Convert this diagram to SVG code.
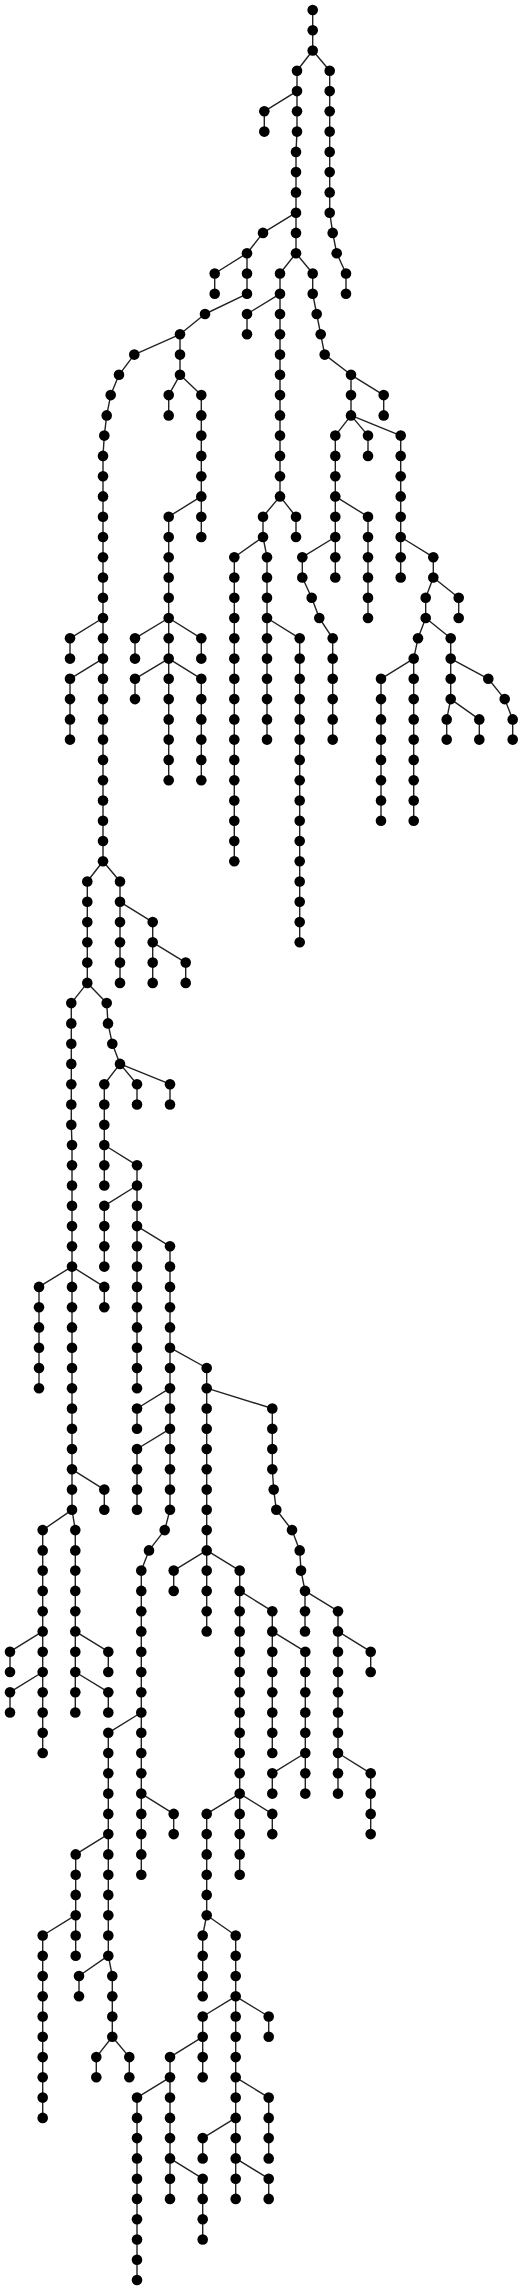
<svg xmlns="http://www.w3.org/2000/svg" width="531" height="2290" viewBox="0 0 531 2290">
<style>
.e path{fill:none;stroke:#222;stroke-width:1.4;stroke-linejoin:round}
circle{fill:#000;r:5.3px}
</style>
<rect width="531" height="2290" fill="#fff"/>
<g id="connectors" class="e">
<path d="M312.7,10 L312.7,50.5 L297,70.8 L297,131.6 L296,151.9 L296,253.2 L280,273.5 L280,496.4 L263,516.7 L263,537 L234.3,557.2 L234.3,861.3"/>
<path d="M312.7,50.5 L329.7,70.8 L329.7,212.7 L332.7,232.9 L336.7,253.2 L346,273.5 L346,293.8"/>
<path d="M297,91.1 L264.3,111.3 L264.3,131.6"/>
<path d="M296,212.7 L263,232.9 L247,253.2 L247,293.8 L205,314 L180,334.3 L180,374.8 L201.3,395.1 L201.3,537"/>
<path d="M180,374.8 L168.7,395.1 L168.7,415.4"/>
<path d="M201.3,496.4 L168.7,516.7 L168.7,780.2"/>
<path d="M168.7,618 L135,638.3 L135,658.6"/>
<path d="M168.7,618 L201.3,638.3 L201.3,658.6"/>
<path d="M168.7,658.6 L135,678.8 L135,699.1"/>
<path d="M168.7,658.6 L201.3,678.8 L201.3,780.2"/>
<path d="M247,253.2 L214.7,273.5 L214.7,293.8"/>
<path d="M280,293.8 L247,314 L247,334.3"/>
<path d="M280,496.4 L296,516.7 L296,537"/>
<path d="M263,537 L267,557.2 L267,739.6"/>
<path d="M267,618 L299.7,638.3 L299.7,942.3"/>
<path d="M296,253.2 L312.7,273.5 L312.7,293.8 L316.7,314 L320.7,334.3 L324.7,354.6 L351,374.8 L351,415.4 L400.7,435.6 L400.7,577.5"/>
<path d="M351,374.8 L383.7,395.1 L383.7,415.4"/>
<path d="M351,415.4 L335.3,435.6 L335.3,577.5"/>
<path d="M351,415.4 L368,435.6 L368,455.9"/>
<path d="M335.3,496.4 L368,516.7 L368,618"/>
<path d="M335.3,537 L302.3,557.2 L302.3,577.5 L311.7,597.8 L319.3,618 L332.7,638.3 L332.7,739.6"/>
<path d="M400.7,537 L433.3,557.2 L433.3,577.5 L425.7,597.8 L425.7,618 L418,638.3 L413.7,658.6 L413.7,820.7"/>
<path d="M433.3,577.5 L458.7,597.8 L458.7,618"/>
<path d="M425.7,618 L450.7,638.3 L450.7,699.1 L446.7,719.4 L446.7,739.6"/>
<path d="M450.7,658.6 L488.3,678.8 L504.7,699.1 L512.7,719.4 L512.7,739.6"/>
<path d="M450.7,699.1 L479.3,719.4 L479.3,739.6"/>
<path d="M413.7,658.6 L381,678.8 L381,820.7"/>
<path d="M180,334.3 L134.3,354.6 L119,374.8 L110.7,395.1 L106.7,415.4 L104.3,435.6 L103,455.9 L103,861.3 L87.3,881.5 L87.3,982.9 L71.3,1003.1 L71.3,1124.7 L72,1145 L72,1509.8 L75.3,1530.1 L75.3,1712.5"/>
<path d="M103,618 L70,638.3 L70,658.6"/>
<path d="M103,658.6 L70,678.8 L70,739.6"/>
<path d="M103,861.3 L120,881.5 L120,982.9"/>
<path d="M120,901.8 L152.7,922.1 L152.7,982.9"/>
<path d="M152.7,942.3 L185.7,962.6 L185.7,982.9"/>
<path d="M87.3,982.9 L106.7,1003.1 L108,1023.4 L112.3,1043.7 L120,1063.9 L170,1084.2 L170,1104.5"/>
<path d="M120,1063.9 L137,1084.2 L137,1104.5"/>
<path d="M120,1063.9 L104.3,1084.2 L104.3,1185.5"/>
<path d="M104.3,1145 L137,1165.3 L137,1388.2"/>
<path d="M137,1185.5 L104.3,1205.8 L104.3,1266.6"/>
<path d="M137,1226.1 L170,1246.3 L170,1509.8 L164.7,1530.1 L149,1550.4 L141.3,1570.6 L141.3,1874.7"/>
<path d="M72,1266.6 L39,1286.9 L39,1388.2"/>
<path d="M72,1266.6 L104.3,1286.9 L104.3,1307.2"/>
<path d="M170,1347.7 L206.7,1368 L206.7,1631.4"/>
<path d="M170,1388.2 L137,1408.5 L137,1428.8"/>
<path d="M170,1428.8 L137,1449 L137,1509.8"/>
<path d="M206.7,1388.2 L272.3,1408.5 L272.3,1469.3 L273.7,1489.6 L276.3,1509.8 L292,1530.1 L299.7,1550.4 L301,1570.6 L305,1590.9 L305,1631.4"/>
<path d="M305,1590.9 L338,1611.2 L338,1793.6"/>
<path d="M338,1631.4 L370.7,1651.7 L370.7,1672"/>
<path d="M338,1753 L370.7,1773.3 L370.7,1834.1"/>
<path d="M206.7,1550.4 L173.7,1570.6 L173.7,1590.9"/>
<path d="M206.7,1550.4 L239.7,1570.6 L239.7,1874.7"/>
<path d="M239.7,1590.9 L272.3,1611.2 L272.3,1753"/>
<path d="M272.3,1631.4 L305.3,1651.7 L305.3,1793.6"/>
<path d="M305.3,1753 L272.3,1773.3 L272.3,1793.6"/>
<path d="M239.7,1793.6 L206.7,1813.9 L206.7,1915.2 L202.7,1935.5 L202.7,1996.3"/>
<path d="M206.7,1915.2 L235.7,1935.5 L235.7,2198.9"/>
<path d="M235.7,1996.3 L202.7,2016.5 L202.7,2077.3"/>
<path d="M235.7,1996.3 L268.7,2016.5 L268.7,2036.8"/>
<path d="M202.7,2036.8 L170,2057.1 L170,2198.9"/>
<path d="M170,2077.3 L137,2097.6 L137,2280"/>
<path d="M170,2158.4 L202.7,2178.7 L202.7,2239.5"/>
<path d="M235.7,2077.3 L268.7,2097.6 L268.7,2158.4"/>
<path d="M235.7,2117.9 L202.7,2138.1 L202.7,2158.4"/>
<path d="M235.7,2158.4 L268.7,2178.7 L268.7,2198.9"/>
<path d="M239.7,1793.6 L272.3,1813.9 L272.3,1834.1"/>
<path d="M141.3,1793.6 L173.7,1813.9 L173.7,1834.1"/>
<path d="M141.3,1712.5 L108.3,1732.8 L108.3,1955.7 L112.3,1976 L112.3,2036.8 L129.3,2057.1 L129.3,2077.3"/>
<path d="M108.3,1834.1 L75.7,1854.4 L75.7,1955.7"/>
<path d="M75.7,1915.2 L42.7,1935.5 L42.7,2117.9"/>
<path d="M108.3,1955.7 L79,1976 L79,1996.3"/>
<path d="M112.3,2036.8 L96.3,2057.1 L96.3,2077.3"/>
<path d="M72,1509.8 L42.7,1530.1 L42.7,1753"/>
<path d="M42.7,1631.4 L10,1651.7 L10,1672"/>
<path d="M42.7,1672 L10,1692.2 L10,1712.5"/>
<path d="M75.3,1631.4 L108.3,1651.7 L108.3,1672"/>
<path d="M75.3,1672 L108.3,1692.2 L108.3,1712.5"/>
<path d="M72,1469.3 L104.3,1489.6 L104.3,1509.8"/>
</g>
<g id="nodes">
<g id="n0-0"><circle cx="312.7" cy="10"/></g>
<g id="n1-0"><circle cx="312.7" cy="30.3"/></g>
<g id="n2-0"><circle cx="312.7" cy="50.5"/></g>
<g id="n3-0"><circle cx="297" cy="70.8"/></g><g id="n3-1"><circle cx="329.7" cy="70.8"/></g>
<g id="n4-0"><circle cx="297" cy="91.1"/></g><g id="n4-1"><circle cx="329.7" cy="91.1"/></g>
<g id="n5-0"><circle cx="264.3" cy="111.3"/></g><g id="n5-1"><circle cx="297" cy="111.3"/></g><g id="n5-2"><circle cx="329.7" cy="111.3"/></g>
<g id="n6-0"><circle cx="264.3" cy="131.6"/></g><g id="n6-1"><circle cx="297" cy="131.6"/></g><g id="n6-2"><circle cx="329.7" cy="131.6"/></g>
<g id="n7-0"><circle cx="296" cy="151.9"/></g><g id="n7-1"><circle cx="329.7" cy="151.9"/></g>
<g id="n8-0"><circle cx="296" cy="172.1"/></g><g id="n8-1"><circle cx="329.7" cy="172.1"/></g>
<g id="n9-0"><circle cx="296" cy="192.4"/></g><g id="n9-1"><circle cx="329.7" cy="192.4"/></g>
<g id="n10-0"><circle cx="296" cy="212.7"/></g><g id="n10-1"><circle cx="329.7" cy="212.7"/></g>
<g id="n11-0"><circle cx="263" cy="232.9"/></g><g id="n11-1"><circle cx="296" cy="232.9"/></g><g id="n11-2"><circle cx="332.7" cy="232.9"/></g>
<g id="n12-0"><circle cx="247" cy="253.2"/></g><g id="n12-1"><circle cx="296" cy="253.2"/></g><g id="n12-2"><circle cx="336.7" cy="253.2"/></g>
<g id="n13-0"><circle cx="214.7" cy="273.5"/></g><g id="n13-1"><circle cx="247" cy="273.5"/></g><g id="n13-2"><circle cx="280" cy="273.5"/></g><g id="n13-3"><circle cx="312.7" cy="273.5"/></g><g id="n13-4"><circle cx="346" cy="273.5"/></g>
<g id="n14-0"><circle cx="214.7" cy="293.8"/></g><g id="n14-1"><circle cx="247" cy="293.8"/></g><g id="n14-2"><circle cx="280" cy="293.8"/></g><g id="n14-3"><circle cx="312.7" cy="293.8"/></g><g id="n14-4"><circle cx="346" cy="293.8"/></g>
<g id="n15-0"><circle cx="205" cy="314"/></g><g id="n15-1"><circle cx="247" cy="314"/></g><g id="n15-2"><circle cx="280" cy="314"/></g><g id="n15-3"><circle cx="316.7" cy="314"/></g>
<g id="n16-0"><circle cx="180" cy="334.3"/></g><g id="n16-1"><circle cx="247" cy="334.3"/></g><g id="n16-2"><circle cx="280" cy="334.3"/></g><g id="n16-3"><circle cx="320.7" cy="334.3"/></g>
<g id="n17-0"><circle cx="134.3" cy="354.6"/></g><g id="n17-1"><circle cx="180" cy="354.6"/></g><g id="n17-2"><circle cx="280" cy="354.6"/></g><g id="n17-3"><circle cx="324.7" cy="354.6"/></g>
<g id="n18-0"><circle cx="119" cy="374.8"/></g><g id="n18-1"><circle cx="180" cy="374.8"/></g><g id="n18-2"><circle cx="280" cy="374.8"/></g><g id="n18-3"><circle cx="351" cy="374.8"/></g>
<g id="n19-0"><circle cx="110.7" cy="395.1"/></g><g id="n19-1"><circle cx="168.7" cy="395.1"/></g><g id="n19-2"><circle cx="201.3" cy="395.1"/></g><g id="n19-3"><circle cx="280" cy="395.1"/></g><g id="n19-4"><circle cx="351" cy="395.1"/></g><g id="n19-5"><circle cx="383.7" cy="395.1"/></g>
<g id="n20-0"><circle cx="106.7" cy="415.4"/></g><g id="n20-1"><circle cx="168.7" cy="415.4"/></g><g id="n20-2"><circle cx="201.3" cy="415.4"/></g><g id="n20-3"><circle cx="280" cy="415.4"/></g><g id="n20-4"><circle cx="351" cy="415.4"/></g><g id="n20-5"><circle cx="383.7" cy="415.4"/></g>
<g id="n21-0"><circle cx="104.3" cy="435.6"/></g><g id="n21-1"><circle cx="201.3" cy="435.6"/></g><g id="n21-2"><circle cx="280" cy="435.6"/></g><g id="n21-3"><circle cx="335.3" cy="435.6"/></g><g id="n21-4"><circle cx="368" cy="435.6"/></g><g id="n21-5"><circle cx="400.7" cy="435.6"/></g>
<g id="n22-0"><circle cx="103" cy="455.9"/></g><g id="n22-1"><circle cx="201.3" cy="455.9"/></g><g id="n22-2"><circle cx="280" cy="455.9"/></g><g id="n22-3"><circle cx="335.3" cy="455.9"/></g><g id="n22-4"><circle cx="368" cy="455.9"/></g><g id="n22-5"><circle cx="400.7" cy="455.9"/></g>
<g id="n23-0"><circle cx="103" cy="476.2"/></g><g id="n23-1"><circle cx="201.3" cy="476.2"/></g><g id="n23-2"><circle cx="280" cy="476.2"/></g><g id="n23-3"><circle cx="335.3" cy="476.2"/></g><g id="n23-4"><circle cx="400.7" cy="476.2"/></g>
<g id="n24-0"><circle cx="103" cy="496.4"/></g><g id="n24-1"><circle cx="201.3" cy="496.4"/></g><g id="n24-2"><circle cx="280" cy="496.4"/></g><g id="n24-3"><circle cx="335.3" cy="496.4"/></g><g id="n24-4"><circle cx="400.7" cy="496.4"/></g>
<g id="n25-0"><circle cx="103" cy="516.7"/></g><g id="n25-1"><circle cx="168.7" cy="516.7"/></g><g id="n25-2"><circle cx="201.3" cy="516.7"/></g><g id="n25-3"><circle cx="263" cy="516.7"/></g><g id="n25-4"><circle cx="296" cy="516.7"/></g><g id="n25-5"><circle cx="335.3" cy="516.7"/></g><g id="n25-6"><circle cx="368" cy="516.7"/></g><g id="n25-7"><circle cx="400.7" cy="516.7"/></g>
<g id="n26-0"><circle cx="103" cy="537"/></g><g id="n26-1"><circle cx="168.7" cy="537"/></g><g id="n26-2"><circle cx="201.3" cy="537"/></g><g id="n26-3"><circle cx="263" cy="537"/></g><g id="n26-4"><circle cx="296" cy="537"/></g><g id="n26-5"><circle cx="335.3" cy="537"/></g><g id="n26-6"><circle cx="368" cy="537"/></g><g id="n26-7"><circle cx="400.7" cy="537"/></g>
<g id="n27-0"><circle cx="103" cy="557.2"/></g><g id="n27-1"><circle cx="168.7" cy="557.2"/></g><g id="n27-2"><circle cx="234.3" cy="557.2"/></g><g id="n27-3"><circle cx="267" cy="557.2"/></g><g id="n27-4"><circle cx="302.3" cy="557.2"/></g><g id="n27-5"><circle cx="335.3" cy="557.2"/></g><g id="n27-6"><circle cx="368" cy="557.2"/></g><g id="n27-7"><circle cx="400.7" cy="557.2"/></g><g id="n27-8"><circle cx="433.3" cy="557.2"/></g>
<g id="n28-0"><circle cx="103" cy="577.5"/></g><g id="n28-1"><circle cx="168.7" cy="577.5"/></g><g id="n28-2"><circle cx="234.3" cy="577.5"/></g><g id="n28-3"><circle cx="267" cy="577.5"/></g><g id="n28-4"><circle cx="302.3" cy="577.5"/></g><g id="n28-5"><circle cx="335.3" cy="577.5"/></g><g id="n28-6"><circle cx="368" cy="577.5"/></g><g id="n28-7"><circle cx="400.7" cy="577.5"/></g><g id="n28-8"><circle cx="433.3" cy="577.5"/></g>
<g id="n29-0"><circle cx="103" cy="597.8"/></g><g id="n29-1"><circle cx="168.7" cy="597.8"/></g><g id="n29-2"><circle cx="234.3" cy="597.8"/></g><g id="n29-3"><circle cx="267" cy="597.8"/></g><g id="n29-4"><circle cx="311.7" cy="597.8"/></g><g id="n29-5"><circle cx="368" cy="597.8"/></g><g id="n29-6"><circle cx="425.7" cy="597.8"/></g><g id="n29-7"><circle cx="458.7" cy="597.8"/></g>
<g id="n30-0"><circle cx="103" cy="618"/></g><g id="n30-1"><circle cx="168.7" cy="618"/></g><g id="n30-2"><circle cx="234.3" cy="618"/></g><g id="n30-3"><circle cx="267" cy="618"/></g><g id="n30-4"><circle cx="319.3" cy="618"/></g><g id="n30-5"><circle cx="368" cy="618"/></g><g id="n30-6"><circle cx="425.7" cy="618"/></g><g id="n30-7"><circle cx="458.7" cy="618"/></g>
<g id="n31-0"><circle cx="70" cy="638.3"/></g><g id="n31-1"><circle cx="103" cy="638.3"/></g><g id="n31-2"><circle cx="135" cy="638.3"/></g><g id="n31-3"><circle cx="168.7" cy="638.3"/></g><g id="n31-4"><circle cx="201.3" cy="638.3"/></g><g id="n31-5"><circle cx="234.3" cy="638.3"/></g><g id="n31-6"><circle cx="267" cy="638.3"/></g><g id="n31-7"><circle cx="299.7" cy="638.3"/></g><g id="n31-8"><circle cx="332.7" cy="638.3"/></g><g id="n31-9"><circle cx="418" cy="638.3"/></g><g id="n31-10"><circle cx="450.7" cy="638.3"/></g>
<g id="n32-0"><circle cx="70" cy="658.6"/></g><g id="n32-1"><circle cx="103" cy="658.6"/></g><g id="n32-2"><circle cx="135" cy="658.6"/></g><g id="n32-3"><circle cx="168.7" cy="658.6"/></g><g id="n32-4"><circle cx="201.3" cy="658.6"/></g><g id="n32-5"><circle cx="234.3" cy="658.6"/></g><g id="n32-6"><circle cx="267" cy="658.6"/></g><g id="n32-7"><circle cx="299.7" cy="658.6"/></g><g id="n32-8"><circle cx="332.7" cy="658.6"/></g><g id="n32-9"><circle cx="413.7" cy="658.6"/></g><g id="n32-10"><circle cx="450.7" cy="658.6"/></g>
<g id="n33-0"><circle cx="70" cy="678.8"/></g><g id="n33-1"><circle cx="103" cy="678.8"/></g><g id="n33-2"><circle cx="135" cy="678.8"/></g><g id="n33-3"><circle cx="168.7" cy="678.8"/></g><g id="n33-4"><circle cx="201.3" cy="678.8"/></g><g id="n33-5"><circle cx="234.3" cy="678.8"/></g><g id="n33-6"><circle cx="267" cy="678.8"/></g><g id="n33-7"><circle cx="299.7" cy="678.8"/></g><g id="n33-8"><circle cx="332.7" cy="678.8"/></g><g id="n33-9"><circle cx="381" cy="678.8"/></g><g id="n33-10"><circle cx="413.7" cy="678.8"/></g><g id="n33-11"><circle cx="450.7" cy="678.8"/></g><g id="n33-12"><circle cx="488.3" cy="678.8"/></g>
<g id="n34-0"><circle cx="70" cy="699.1"/></g><g id="n34-1"><circle cx="103" cy="699.1"/></g><g id="n34-2"><circle cx="135" cy="699.1"/></g><g id="n34-3"><circle cx="168.7" cy="699.1"/></g><g id="n34-4"><circle cx="201.3" cy="699.1"/></g><g id="n34-5"><circle cx="234.3" cy="699.1"/></g><g id="n34-6"><circle cx="267" cy="699.1"/></g><g id="n34-7"><circle cx="299.7" cy="699.1"/></g><g id="n34-8"><circle cx="332.7" cy="699.1"/></g><g id="n34-9"><circle cx="381" cy="699.1"/></g><g id="n34-10"><circle cx="413.7" cy="699.1"/></g><g id="n34-11"><circle cx="450.7" cy="699.1"/></g><g id="n34-12"><circle cx="504.7" cy="699.1"/></g>
<g id="n35-0"><circle cx="70" cy="719.4"/></g><g id="n35-1"><circle cx="103" cy="719.4"/></g><g id="n35-2"><circle cx="168.7" cy="719.4"/></g><g id="n35-3"><circle cx="201.3" cy="719.4"/></g><g id="n35-4"><circle cx="234.3" cy="719.4"/></g><g id="n35-5"><circle cx="267" cy="719.4"/></g><g id="n35-6"><circle cx="299.7" cy="719.4"/></g><g id="n35-7"><circle cx="332.7" cy="719.4"/></g><g id="n35-8"><circle cx="381" cy="719.4"/></g><g id="n35-9"><circle cx="413.7" cy="719.4"/></g><g id="n35-10"><circle cx="446.7" cy="719.4"/></g><g id="n35-11"><circle cx="479.3" cy="719.4"/></g><g id="n35-12"><circle cx="512.7" cy="719.4"/></g>
<g id="n36-0"><circle cx="70" cy="739.6"/></g><g id="n36-1"><circle cx="103" cy="739.6"/></g><g id="n36-2"><circle cx="168.7" cy="739.6"/></g><g id="n36-3"><circle cx="201.3" cy="739.6"/></g><g id="n36-4"><circle cx="234.3" cy="739.6"/></g><g id="n36-5"><circle cx="267" cy="739.6"/></g><g id="n36-6"><circle cx="299.7" cy="739.6"/></g><g id="n36-7"><circle cx="332.7" cy="739.6"/></g><g id="n36-8"><circle cx="381" cy="739.6"/></g><g id="n36-9"><circle cx="413.7" cy="739.6"/></g><g id="n36-10"><circle cx="446.7" cy="739.6"/></g><g id="n36-11"><circle cx="479.3" cy="739.6"/></g><g id="n36-12"><circle cx="512.7" cy="739.6"/></g>
<g id="n37-0"><circle cx="103" cy="759.9"/></g><g id="n37-1"><circle cx="168.7" cy="759.9"/></g><g id="n37-2"><circle cx="201.3" cy="759.9"/></g><g id="n37-3"><circle cx="234.3" cy="759.9"/></g><g id="n37-4"><circle cx="299.7" cy="759.9"/></g><g id="n37-5"><circle cx="381" cy="759.9"/></g><g id="n37-6"><circle cx="413.7" cy="759.9"/></g>
<g id="n38-0"><circle cx="103" cy="780.2"/></g><g id="n38-1"><circle cx="168.7" cy="780.2"/></g><g id="n38-2"><circle cx="201.3" cy="780.2"/></g><g id="n38-3"><circle cx="234.3" cy="780.2"/></g><g id="n38-4"><circle cx="299.7" cy="780.2"/></g><g id="n38-5"><circle cx="381" cy="780.2"/></g><g id="n38-6"><circle cx="413.7" cy="780.2"/></g>
<g id="n39-0"><circle cx="103" cy="800.5"/></g><g id="n39-1"><circle cx="234.3" cy="800.5"/></g><g id="n39-2"><circle cx="299.7" cy="800.5"/></g><g id="n39-3"><circle cx="381" cy="800.5"/></g><g id="n39-4"><circle cx="413.7" cy="800.5"/></g>
<g id="n40-0"><circle cx="103" cy="820.7"/></g><g id="n40-1"><circle cx="234.3" cy="820.7"/></g><g id="n40-2"><circle cx="299.7" cy="820.7"/></g><g id="n40-3"><circle cx="381" cy="820.7"/></g><g id="n40-4"><circle cx="413.7" cy="820.7"/></g>
<g id="n41-0"><circle cx="103" cy="841"/></g><g id="n41-1"><circle cx="234.3" cy="841"/></g><g id="n41-2"><circle cx="299.7" cy="841"/></g>
<g id="n42-0"><circle cx="103" cy="861.3"/></g><g id="n42-1"><circle cx="234.3" cy="861.3"/></g><g id="n42-2"><circle cx="299.7" cy="861.3"/></g>
<g id="n43-0"><circle cx="87.3" cy="881.5"/></g><g id="n43-1"><circle cx="120" cy="881.5"/></g><g id="n43-2"><circle cx="299.7" cy="881.5"/></g>
<g id="n44-0"><circle cx="87.3" cy="901.8"/></g><g id="n44-1"><circle cx="120" cy="901.8"/></g><g id="n44-2"><circle cx="299.7" cy="901.8"/></g>
<g id="n45-0"><circle cx="87.3" cy="922.1"/></g><g id="n45-1"><circle cx="120" cy="922.1"/></g><g id="n45-2"><circle cx="152.7" cy="922.1"/></g><g id="n45-3"><circle cx="299.7" cy="922.1"/></g>
<g id="n46-0"><circle cx="87.3" cy="942.3"/></g><g id="n46-1"><circle cx="120" cy="942.3"/></g><g id="n46-2"><circle cx="152.7" cy="942.3"/></g><g id="n46-3"><circle cx="299.7" cy="942.3"/></g>
<g id="n47-0"><circle cx="87.3" cy="962.6"/></g><g id="n47-1"><circle cx="120" cy="962.6"/></g><g id="n47-2"><circle cx="152.7" cy="962.6"/></g><g id="n47-3"><circle cx="185.7" cy="962.6"/></g>
<g id="n48-0"><circle cx="87.3" cy="982.9"/></g><g id="n48-1"><circle cx="120" cy="982.9"/></g><g id="n48-2"><circle cx="152.7" cy="982.9"/></g><g id="n48-3"><circle cx="185.7" cy="982.9"/></g>
<g id="n49-0"><circle cx="71.3" cy="1003.1"/></g><g id="n49-1"><circle cx="106.7" cy="1003.1"/></g>
<g id="n50-0"><circle cx="71.3" cy="1023.4"/></g><g id="n50-1"><circle cx="108" cy="1023.4"/></g>
<g id="n51-0"><circle cx="71.3" cy="1043.7"/></g><g id="n51-1"><circle cx="112.3" cy="1043.7"/></g>
<g id="n52-0"><circle cx="71.3" cy="1063.9"/></g><g id="n52-1"><circle cx="120" cy="1063.9"/></g>
<g id="n53-0"><circle cx="71.3" cy="1084.2"/></g><g id="n53-1"><circle cx="104.3" cy="1084.2"/></g><g id="n53-2"><circle cx="137" cy="1084.2"/></g><g id="n53-3"><circle cx="170" cy="1084.2"/></g>
<g id="n54-0"><circle cx="71.3" cy="1104.5"/></g><g id="n54-1"><circle cx="104.3" cy="1104.5"/></g><g id="n54-2"><circle cx="137" cy="1104.5"/></g><g id="n54-3"><circle cx="170" cy="1104.5"/></g>
<g id="n55-0"><circle cx="71.3" cy="1124.7"/></g><g id="n55-1"><circle cx="104.3" cy="1124.7"/></g>
<g id="n56-0"><circle cx="72" cy="1145"/></g><g id="n56-1"><circle cx="104.3" cy="1145"/></g>
<g id="n57-0"><circle cx="72" cy="1165.3"/></g><g id="n57-1"><circle cx="104.3" cy="1165.3"/></g><g id="n57-2"><circle cx="137" cy="1165.3"/></g>
<g id="n58-0"><circle cx="72" cy="1185.5"/></g><g id="n58-1"><circle cx="104.3" cy="1185.5"/></g><g id="n58-2"><circle cx="137" cy="1185.5"/></g>
<g id="n59-0"><circle cx="72" cy="1205.8"/></g><g id="n59-1"><circle cx="104.3" cy="1205.8"/></g><g id="n59-2"><circle cx="137" cy="1205.8"/></g>
<g id="n60-0"><circle cx="72" cy="1226.1"/></g><g id="n60-1"><circle cx="104.3" cy="1226.1"/></g><g id="n60-2"><circle cx="137" cy="1226.1"/></g>
<g id="n61-0"><circle cx="72" cy="1246.3"/></g><g id="n61-1"><circle cx="104.3" cy="1246.3"/></g><g id="n61-2"><circle cx="137" cy="1246.3"/></g><g id="n61-3"><circle cx="170" cy="1246.3"/></g>
<g id="n62-0"><circle cx="72" cy="1266.6"/></g><g id="n62-1"><circle cx="104.3" cy="1266.6"/></g><g id="n62-2"><circle cx="137" cy="1266.6"/></g><g id="n62-3"><circle cx="170" cy="1266.6"/></g>
<g id="n63-0"><circle cx="39" cy="1286.9"/></g><g id="n63-1"><circle cx="72" cy="1286.9"/></g><g id="n63-2"><circle cx="104.3" cy="1286.9"/></g><g id="n63-3"><circle cx="137" cy="1286.9"/></g><g id="n63-4"><circle cx="170" cy="1286.9"/></g>
<g id="n64-0"><circle cx="39" cy="1307.2"/></g><g id="n64-1"><circle cx="72" cy="1307.2"/></g><g id="n64-2"><circle cx="104.3" cy="1307.2"/></g><g id="n64-3"><circle cx="137" cy="1307.2"/></g><g id="n64-4"><circle cx="170" cy="1307.2"/></g>
<g id="n65-0"><circle cx="39" cy="1327.4"/></g><g id="n65-1"><circle cx="72" cy="1327.4"/></g><g id="n65-2"><circle cx="137" cy="1327.4"/></g><g id="n65-3"><circle cx="170" cy="1327.4"/></g>
<g id="n66-0"><circle cx="39" cy="1347.7"/></g><g id="n66-1"><circle cx="72" cy="1347.7"/></g><g id="n66-2"><circle cx="137" cy="1347.7"/></g><g id="n66-3"><circle cx="170" cy="1347.7"/></g>
<g id="n67-0"><circle cx="39" cy="1368"/></g><g id="n67-1"><circle cx="72" cy="1368"/></g><g id="n67-2"><circle cx="137" cy="1368"/></g><g id="n67-3"><circle cx="170" cy="1368"/></g><g id="n67-4"><circle cx="206.7" cy="1368"/></g>
<g id="n68-0"><circle cx="39" cy="1388.2"/></g><g id="n68-1"><circle cx="72" cy="1388.2"/></g><g id="n68-2"><circle cx="137" cy="1388.2"/></g><g id="n68-3"><circle cx="170" cy="1388.2"/></g><g id="n68-4"><circle cx="206.7" cy="1388.2"/></g>
<g id="n69-0"><circle cx="72" cy="1408.5"/></g><g id="n69-1"><circle cx="137" cy="1408.5"/></g><g id="n69-2"><circle cx="170" cy="1408.5"/></g><g id="n69-3"><circle cx="206.7" cy="1408.5"/></g><g id="n69-4"><circle cx="272.3" cy="1408.5"/></g>
<g id="n70-0"><circle cx="72" cy="1428.8"/></g><g id="n70-1"><circle cx="137" cy="1428.8"/></g><g id="n70-2"><circle cx="170" cy="1428.8"/></g><g id="n70-3"><circle cx="206.7" cy="1428.8"/></g><g id="n70-4"><circle cx="272.3" cy="1428.8"/></g>
<g id="n71-0"><circle cx="72" cy="1449"/></g><g id="n71-1"><circle cx="137" cy="1449"/></g><g id="n71-2"><circle cx="170" cy="1449"/></g><g id="n71-3"><circle cx="206.7" cy="1449"/></g><g id="n71-4"><circle cx="272.3" cy="1449"/></g>
<g id="n72-0"><circle cx="72" cy="1469.3"/></g><g id="n72-1"><circle cx="137" cy="1469.3"/></g><g id="n72-2"><circle cx="170" cy="1469.3"/></g><g id="n72-3"><circle cx="206.7" cy="1469.3"/></g><g id="n72-4"><circle cx="272.3" cy="1469.3"/></g>
<g id="n73-0"><circle cx="72" cy="1489.6"/></g><g id="n73-1"><circle cx="104.3" cy="1489.6"/></g><g id="n73-2"><circle cx="137" cy="1489.6"/></g><g id="n73-3"><circle cx="170" cy="1489.6"/></g><g id="n73-4"><circle cx="206.7" cy="1489.6"/></g><g id="n73-5"><circle cx="273.7" cy="1489.6"/></g>
<g id="n74-0"><circle cx="72" cy="1509.8"/></g><g id="n74-1"><circle cx="104.3" cy="1509.8"/></g><g id="n74-2"><circle cx="137" cy="1509.8"/></g><g id="n74-3"><circle cx="170" cy="1509.8"/></g><g id="n74-4"><circle cx="206.7" cy="1509.8"/></g><g id="n74-5"><circle cx="276.3" cy="1509.8"/></g>
<g id="n75-0"><circle cx="42.7" cy="1530.1"/></g><g id="n75-1"><circle cx="75.3" cy="1530.1"/></g><g id="n75-2"><circle cx="164.7" cy="1530.1"/></g><g id="n75-3"><circle cx="206.7" cy="1530.1"/></g><g id="n75-4"><circle cx="292" cy="1530.1"/></g>
<g id="n76-0"><circle cx="42.7" cy="1550.4"/></g><g id="n76-1"><circle cx="75.3" cy="1550.4"/></g><g id="n76-2"><circle cx="149" cy="1550.4"/></g><g id="n76-3"><circle cx="206.7" cy="1550.4"/></g><g id="n76-4"><circle cx="299.7" cy="1550.4"/></g>
<g id="n77-0"><circle cx="42.7" cy="1570.6"/></g><g id="n77-1"><circle cx="75.3" cy="1570.6"/></g><g id="n77-2"><circle cx="141.3" cy="1570.6"/></g><g id="n77-3"><circle cx="173.7" cy="1570.6"/></g><g id="n77-4"><circle cx="206.7" cy="1570.6"/></g><g id="n77-5"><circle cx="239.7" cy="1570.6"/></g><g id="n77-6"><circle cx="301" cy="1570.6"/></g>
<g id="n78-0"><circle cx="42.7" cy="1590.9"/></g><g id="n78-1"><circle cx="75.3" cy="1590.9"/></g><g id="n78-2"><circle cx="141.3" cy="1590.9"/></g><g id="n78-3"><circle cx="173.7" cy="1590.9"/></g><g id="n78-4"><circle cx="206.7" cy="1590.9"/></g><g id="n78-5"><circle cx="239.7" cy="1590.9"/></g><g id="n78-6"><circle cx="305" cy="1590.9"/></g>
<g id="n79-0"><circle cx="42.7" cy="1611.2"/></g><g id="n79-1"><circle cx="75.3" cy="1611.2"/></g><g id="n79-2"><circle cx="141.3" cy="1611.2"/></g><g id="n79-3"><circle cx="206.7" cy="1611.2"/></g><g id="n79-4"><circle cx="239.7" cy="1611.2"/></g><g id="n79-5"><circle cx="272.3" cy="1611.2"/></g><g id="n79-6"><circle cx="305" cy="1611.2"/></g><g id="n79-7"><circle cx="338" cy="1611.2"/></g>
<g id="n80-0"><circle cx="42.7" cy="1631.4"/></g><g id="n80-1"><circle cx="75.3" cy="1631.4"/></g><g id="n80-2"><circle cx="141.3" cy="1631.4"/></g><g id="n80-3"><circle cx="206.7" cy="1631.4"/></g><g id="n80-4"><circle cx="239.7" cy="1631.4"/></g><g id="n80-5"><circle cx="272.3" cy="1631.4"/></g><g id="n80-6"><circle cx="305" cy="1631.4"/></g><g id="n80-7"><circle cx="338" cy="1631.4"/></g>
<g id="n81-0"><circle cx="10" cy="1651.7"/></g><g id="n81-1"><circle cx="42.7" cy="1651.7"/></g><g id="n81-2"><circle cx="75.3" cy="1651.7"/></g><g id="n81-3"><circle cx="108.3" cy="1651.7"/></g><g id="n81-4"><circle cx="141.3" cy="1651.7"/></g><g id="n81-5"><circle cx="239.7" cy="1651.7"/></g><g id="n81-6"><circle cx="272.3" cy="1651.7"/></g><g id="n81-7"><circle cx="305.3" cy="1651.7"/></g><g id="n81-8"><circle cx="338" cy="1651.7"/></g><g id="n81-9"><circle cx="370.7" cy="1651.7"/></g>
<g id="n82-0"><circle cx="10" cy="1672"/></g><g id="n82-1"><circle cx="42.7" cy="1672"/></g><g id="n82-2"><circle cx="75.3" cy="1672"/></g><g id="n82-3"><circle cx="108.3" cy="1672"/></g><g id="n82-4"><circle cx="141.3" cy="1672"/></g><g id="n82-5"><circle cx="239.7" cy="1672"/></g><g id="n82-6"><circle cx="272.3" cy="1672"/></g><g id="n82-7"><circle cx="305.3" cy="1672"/></g><g id="n82-8"><circle cx="338" cy="1672"/></g><g id="n82-9"><circle cx="370.7" cy="1672"/></g>
<g id="n83-0"><circle cx="10" cy="1692.2"/></g><g id="n83-1"><circle cx="42.7" cy="1692.2"/></g><g id="n83-2"><circle cx="75.3" cy="1692.2"/></g><g id="n83-3"><circle cx="108.3" cy="1692.2"/></g><g id="n83-4"><circle cx="141.3" cy="1692.2"/></g><g id="n83-5"><circle cx="239.7" cy="1692.2"/></g><g id="n83-6"><circle cx="272.3" cy="1692.2"/></g><g id="n83-7"><circle cx="305.3" cy="1692.2"/></g><g id="n83-8"><circle cx="338" cy="1692.2"/></g>
<g id="n84-0"><circle cx="10" cy="1712.5"/></g><g id="n84-1"><circle cx="42.7" cy="1712.5"/></g><g id="n84-2"><circle cx="75.3" cy="1712.5"/></g><g id="n84-3"><circle cx="108.3" cy="1712.5"/></g><g id="n84-4"><circle cx="141.3" cy="1712.5"/></g><g id="n84-5"><circle cx="239.7" cy="1712.5"/></g><g id="n84-6"><circle cx="272.3" cy="1712.5"/></g><g id="n84-7"><circle cx="305.3" cy="1712.5"/></g><g id="n84-8"><circle cx="338" cy="1712.5"/></g>
<g id="n85-0"><circle cx="42.7" cy="1732.8"/></g><g id="n85-1"><circle cx="108.3" cy="1732.8"/></g><g id="n85-2"><circle cx="141.3" cy="1732.8"/></g><g id="n85-3"><circle cx="239.7" cy="1732.8"/></g><g id="n85-4"><circle cx="272.3" cy="1732.8"/></g><g id="n85-5"><circle cx="305.3" cy="1732.8"/></g><g id="n85-6"><circle cx="338" cy="1732.8"/></g>
<g id="n86-0"><circle cx="42.7" cy="1753"/></g><g id="n86-1"><circle cx="108.3" cy="1753"/></g><g id="n86-2"><circle cx="141.3" cy="1753"/></g><g id="n86-3"><circle cx="239.7" cy="1753"/></g><g id="n86-4"><circle cx="272.3" cy="1753"/></g><g id="n86-5"><circle cx="305.3" cy="1753"/></g><g id="n86-6"><circle cx="338" cy="1753"/></g>
<g id="n87-0"><circle cx="108.3" cy="1773.3"/></g><g id="n87-1"><circle cx="141.3" cy="1773.3"/></g><g id="n87-2"><circle cx="239.7" cy="1773.3"/></g><g id="n87-3"><circle cx="272.3" cy="1773.3"/></g><g id="n87-4"><circle cx="305.3" cy="1773.3"/></g><g id="n87-5"><circle cx="338" cy="1773.3"/></g><g id="n87-6"><circle cx="370.7" cy="1773.3"/></g>
<g id="n88-0"><circle cx="108.3" cy="1793.6"/></g><g id="n88-1"><circle cx="141.3" cy="1793.6"/></g><g id="n88-2"><circle cx="239.7" cy="1793.6"/></g><g id="n88-3"><circle cx="272.3" cy="1793.6"/></g><g id="n88-4"><circle cx="305.3" cy="1793.6"/></g><g id="n88-5"><circle cx="338" cy="1793.6"/></g><g id="n88-6"><circle cx="370.7" cy="1793.6"/></g>
<g id="n89-0"><circle cx="108.3" cy="1813.9"/></g><g id="n89-1"><circle cx="141.3" cy="1813.9"/></g><g id="n89-2"><circle cx="173.7" cy="1813.9"/></g><g id="n89-3"><circle cx="206.7" cy="1813.9"/></g><g id="n89-4"><circle cx="239.7" cy="1813.9"/></g><g id="n89-5"><circle cx="272.3" cy="1813.9"/></g><g id="n89-6"><circle cx="370.7" cy="1813.9"/></g>
<g id="n90-0"><circle cx="108.3" cy="1834.1"/></g><g id="n90-1"><circle cx="141.3" cy="1834.1"/></g><g id="n90-2"><circle cx="173.7" cy="1834.1"/></g><g id="n90-3"><circle cx="206.7" cy="1834.1"/></g><g id="n90-4"><circle cx="239.7" cy="1834.1"/></g><g id="n90-5"><circle cx="272.3" cy="1834.1"/></g><g id="n90-6"><circle cx="370.7" cy="1834.1"/></g>
<g id="n91-0"><circle cx="75.7" cy="1854.4"/></g><g id="n91-1"><circle cx="108.3" cy="1854.4"/></g><g id="n91-2"><circle cx="141.3" cy="1854.4"/></g><g id="n91-3"><circle cx="206.7" cy="1854.4"/></g><g id="n91-4"><circle cx="239.7" cy="1854.4"/></g>
<g id="n92-0"><circle cx="75.7" cy="1874.7"/></g><g id="n92-1"><circle cx="108.3" cy="1874.7"/></g><g id="n92-2"><circle cx="141.3" cy="1874.7"/></g><g id="n92-3"><circle cx="206.7" cy="1874.7"/></g><g id="n92-4"><circle cx="239.7" cy="1874.7"/></g>
<g id="n93-0"><circle cx="75.7" cy="1894.9"/></g><g id="n93-1"><circle cx="108.3" cy="1894.9"/></g><g id="n93-2"><circle cx="206.7" cy="1894.9"/></g>
<g id="n94-0"><circle cx="75.7" cy="1915.2"/></g><g id="n94-1"><circle cx="108.3" cy="1915.2"/></g><g id="n94-2"><circle cx="206.7" cy="1915.2"/></g>
<g id="n95-0"><circle cx="42.7" cy="1935.5"/></g><g id="n95-1"><circle cx="75.7" cy="1935.5"/></g><g id="n95-2"><circle cx="108.3" cy="1935.5"/></g><g id="n95-3"><circle cx="202.7" cy="1935.5"/></g><g id="n95-4"><circle cx="235.7" cy="1935.5"/></g>
<g id="n96-0"><circle cx="42.7" cy="1955.7"/></g><g id="n96-1"><circle cx="75.7" cy="1955.7"/></g><g id="n96-2"><circle cx="108.3" cy="1955.7"/></g><g id="n96-3"><circle cx="202.7" cy="1955.7"/></g><g id="n96-4"><circle cx="235.7" cy="1955.7"/></g>
<g id="n97-0"><circle cx="42.7" cy="1976"/></g><g id="n97-1"><circle cx="79" cy="1976"/></g><g id="n97-2"><circle cx="112.3" cy="1976"/></g><g id="n97-3"><circle cx="202.7" cy="1976"/></g><g id="n97-4"><circle cx="235.7" cy="1976"/></g>
<g id="n98-0"><circle cx="42.7" cy="1996.3"/></g><g id="n98-1"><circle cx="79" cy="1996.3"/></g><g id="n98-2"><circle cx="112.3" cy="1996.3"/></g><g id="n98-3"><circle cx="202.7" cy="1996.3"/></g><g id="n98-4"><circle cx="235.7" cy="1996.3"/></g>
<g id="n99-0"><circle cx="42.7" cy="2016.5"/></g><g id="n99-1"><circle cx="112.3" cy="2016.5"/></g><g id="n99-2"><circle cx="202.7" cy="2016.5"/></g><g id="n99-3"><circle cx="235.7" cy="2016.5"/></g><g id="n99-4"><circle cx="268.7" cy="2016.5"/></g>
<g id="n100-0"><circle cx="42.7" cy="2036.8"/></g><g id="n100-1"><circle cx="112.3" cy="2036.8"/></g><g id="n100-2"><circle cx="202.7" cy="2036.8"/></g><g id="n100-3"><circle cx="235.7" cy="2036.8"/></g><g id="n100-4"><circle cx="268.7" cy="2036.8"/></g>
<g id="n101-0"><circle cx="42.7" cy="2057.1"/></g><g id="n101-1"><circle cx="96.3" cy="2057.1"/></g><g id="n101-2"><circle cx="129.3" cy="2057.1"/></g><g id="n101-3"><circle cx="170" cy="2057.1"/></g><g id="n101-4"><circle cx="202.7" cy="2057.1"/></g><g id="n101-5"><circle cx="235.7" cy="2057.1"/></g>
<g id="n102-0"><circle cx="42.7" cy="2077.3"/></g><g id="n102-1"><circle cx="96.3" cy="2077.3"/></g><g id="n102-2"><circle cx="129.3" cy="2077.3"/></g><g id="n102-3"><circle cx="170" cy="2077.3"/></g><g id="n102-4"><circle cx="202.7" cy="2077.3"/></g><g id="n102-5"><circle cx="235.7" cy="2077.3"/></g>
<g id="n103-0"><circle cx="42.7" cy="2097.6"/></g><g id="n103-1"><circle cx="137" cy="2097.6"/></g><g id="n103-2"><circle cx="170" cy="2097.6"/></g><g id="n103-3"><circle cx="235.7" cy="2097.6"/></g><g id="n103-4"><circle cx="268.7" cy="2097.6"/></g>
<g id="n104-0"><circle cx="42.7" cy="2117.9"/></g><g id="n104-1"><circle cx="137" cy="2117.9"/></g><g id="n104-2"><circle cx="170" cy="2117.9"/></g><g id="n104-3"><circle cx="235.7" cy="2117.9"/></g><g id="n104-4"><circle cx="268.7" cy="2117.9"/></g>
<g id="n105-0"><circle cx="137" cy="2138.1"/></g><g id="n105-1"><circle cx="170" cy="2138.1"/></g><g id="n105-2"><circle cx="202.7" cy="2138.1"/></g><g id="n105-3"><circle cx="235.7" cy="2138.1"/></g><g id="n105-4"><circle cx="268.7" cy="2138.1"/></g>
<g id="n106-0"><circle cx="137" cy="2158.4"/></g><g id="n106-1"><circle cx="170" cy="2158.4"/></g><g id="n106-2"><circle cx="202.7" cy="2158.4"/></g><g id="n106-3"><circle cx="235.7" cy="2158.4"/></g><g id="n106-4"><circle cx="268.7" cy="2158.4"/></g>
<g id="n107-0"><circle cx="137" cy="2178.7"/></g><g id="n107-1"><circle cx="170" cy="2178.7"/></g><g id="n107-2"><circle cx="202.7" cy="2178.7"/></g><g id="n107-3"><circle cx="235.7" cy="2178.7"/></g><g id="n107-4"><circle cx="268.7" cy="2178.7"/></g>
<g id="n108-0"><circle cx="137" cy="2198.9"/></g><g id="n108-1"><circle cx="170" cy="2198.9"/></g><g id="n108-2"><circle cx="202.7" cy="2198.9"/></g><g id="n108-3"><circle cx="235.7" cy="2198.9"/></g><g id="n108-4"><circle cx="268.7" cy="2198.9"/></g>
<g id="n109-0"><circle cx="137" cy="2219.2"/></g><g id="n109-1"><circle cx="202.7" cy="2219.2"/></g>
<g id="n110-0"><circle cx="137" cy="2239.5"/></g><g id="n110-1"><circle cx="202.7" cy="2239.5"/></g>
<g id="n111-0"><circle cx="137" cy="2259.7"/></g>
<g id="n112-0"><circle cx="137" cy="2280"/></g>
</g>
</svg>
